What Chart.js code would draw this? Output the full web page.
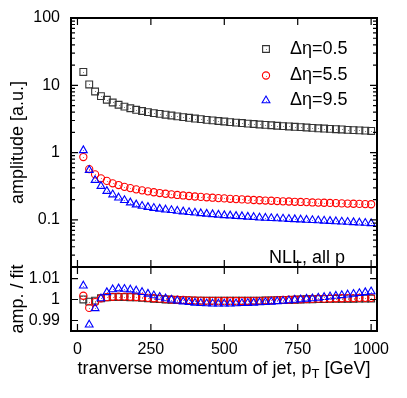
<!DOCTYPE html>
<html>
<head>
<meta charset="utf-8">
<script src="https://cdn.jsdelivr.net/npm/chart.js@4.4.0/dist/chart.umd.min.js"></script>
<style>
  html, body { margin: 0; padding: 0; background: #fff; }
  #wrap { position: relative; width: 407px; height: 398px; }
  #top { position: absolute; left: 0; top: 0; }
  #bot { position: absolute; left: 0; top: 260px; }
</style>
</head>
<body>
<div id="wrap">
  <canvas id="top" width="407" height="270"></canvas>
  <canvas id="bot" width="407" height="138"></canvas>
</div>
<script>
// transverse momentum of the jet (GeV)
const pT = [20, 40, 60, 80, 100, 120, 140, 160, 180, 200,
  220, 240, 260, 280, 300, 320, 340, 360, 380, 400,
  420, 440, 460, 480, 500, 520, 540, 560, 580, 600,
  620, 640, 660, 680, 700, 720, 740, 760, 780, 800,
  820, 840, 860, 880, 900, 920, 940, 960, 980, 1000];

// amplitude [a.u.]
const ampEta05 = [15.8, 10.3, 8.1, 6.9, 6.1, 5.56, 5.14, 4.82, 4.56, 4.33,
  4.15, 4.0, 3.87, 3.76, 3.66, 3.56, 3.46, 3.37, 3.29, 3.21,
  3.14, 3.07, 3.01, 2.95, 2.90, 2.84, 2.79, 2.75, 2.70, 2.66,
  2.62, 2.58, 2.55, 2.51, 2.48, 2.45, 2.42, 2.39, 2.36, 2.33,
  2.30, 2.28, 2.25, 2.23, 2.21, 2.18, 2.16, 2.14, 2.12, 2.10];
const ampEta55 = [0.86, 0.57, 0.475, 0.415, 0.38, 0.35, 0.33, 0.31, 0.297, 0.285,
  0.275, 0.266, 0.258, 0.251, 0.245, 0.240, 0.235, 0.231, 0.227, 0.223,
  0.220, 0.217, 0.214, 0.211, 0.209, 0.206, 0.204, 0.202, 0.200, 0.198,
  0.196, 0.194, 0.193, 0.191, 0.189, 0.188, 0.186, 0.185, 0.184, 0.182,
  0.181, 0.180, 0.179, 0.178, 0.176, 0.175, 0.174, 0.173, 0.172, 0.171];
const ampEta95 = [1.08, 0.55, 0.39, 0.318, 0.268, 0.238, 0.214, 0.196, 0.181, 0.169,
  0.161, 0.155, 0.150, 0.146, 0.142, 0.139, 0.136, 0.133, 0.130, 0.128,
  0.125, 0.123, 0.121, 0.119, 0.117, 0.116, 0.114, 0.113, 0.111, 0.110,
  0.108, 0.107, 0.106, 0.105, 0.104, 0.103, 0.102, 0.101, 0.100, 0.099,
  0.098, 0.097, 0.096, 0.095, 0.094, 0.093, 0.092, 0.091, 0.090, 0.089];

// amp. / fit
const ratioEta05 = [1.0000, 0.9990, 0.9995, 1.0006, 1.0010, 1.0012, 1.0012, 1.0012, 1.0011, 1.0010,
  1.0008, 1.0006, 1.0004, 1.0002, 1.0000, 0.9999, 0.9998, 0.9997, 0.9996, 0.9995,
  0.9995, 0.9994, 0.9994, 0.9994, 0.9994, 0.9994, 0.9994, 0.9994, 0.9994, 0.9995,
  0.9995, 0.9996, 0.9996, 0.9997, 0.9998, 0.9998, 0.9999, 1.0000, 1.0001, 1.0001,
  1.0002, 1.0002, 1.0003, 1.0003, 1.0004, 1.0004, 1.0004, 1.0005, 1.0005, 1.0005];
const ratioEta55 = [1.0018, 0.9960, 0.9988, 1.0006, 1.0011, 1.0013, 1.0014, 1.0014, 1.0013, 1.0012,
  1.0010, 1.0008, 1.0006, 1.0004, 1.0002, 1.0000, 0.9999, 0.9998, 0.9997, 0.9996,
  0.9995, 0.9994, 0.9994, 0.9993, 0.9993, 0.9993, 0.9993, 0.9993, 0.9993, 0.9994,
  0.9994, 0.9995, 0.9996, 0.9997, 0.9998, 0.9999, 1.0000, 1.0001, 1.0002, 1.0003,
  1.0004, 1.0004, 1.0005, 1.0006, 1.0006, 1.0007, 1.0007, 1.0008, 1.0008, 1.0008];
const ratioEta95 = [1.0066, 0.9880, 0.9958, 1.0005, 1.0034, 1.0048, 1.0052, 1.0050, 1.0047, 1.0042,
  1.0035, 1.0027, 1.0019, 1.0012, 1.0005, 0.9999, 0.9994, 0.9990, 0.9987, 0.9984,
  0.9982, 0.9981, 0.9980, 0.9980, 0.9980, 0.9980, 0.9981, 0.9982, 0.9983, 0.9984,
  0.9986, 0.9987, 0.9989, 0.9991, 0.9993, 0.9995, 0.9998, 1.0000, 1.0003, 1.0005,
  1.0008, 1.0011, 1.0014, 1.0017, 1.0020, 1.0023, 1.0026, 1.0030, 1.0034, 1.0038];

const seriesLabels = ["\u0394\u03b7=0.5", "\u0394\u03b7=5.5", "\u0394\u03b7=9.5"];
const xTicks = [0, 250, 500, 750, 1000];
const ampTicks = [0.1, 1, 10, 100];
const ratioTicks = [0.99, 1, 1.01];
const noteText = "NLL, all p";
const xTitle = ["tranverse momentum of jet, p", "T", " [GeV]"];

const FONT = "'Liberation Sans', Arial, Helvetica, sans-serif";
Chart.defaults.font.family = FONT;
Chart.defaults.color = "#000";

const styles = [
  { pointStyle: "rect",     pointRadius: 4.8, color: "#333", dot: "#888", order: 3 },
  { pointStyle: "circle",   pointRadius: 3.6, color: "#ff0000", dot: "#f66", order: 2 },
  { pointStyle: "triangle", pointRadius: 4.5, color: "#0000ff", dot: "#66f", order: 1 },
];

function makeSets(arrs) {
  return arrs.map((arr, i) => ({
    label: seriesLabels[i],
    data: pT.map((x, j) => ({ x, y: arr[j] })),
    pointStyle: styles[i].pointStyle,
    pointRadius: styles[i].pointRadius,
    pointBorderColor: styles[i].color,
    pointBackgroundColor: "rgba(0,0,0,0)",
    pointBorderWidth: 1.1,
    showLine: false,
    order: styles[i].order,
    dotColor: styles[i].dot,
  }));
}

// pin the plot box: fixed axis width, no label overhang padding
function pinY(s) {
  s.width = 71;
  s.paddingTop = 0;
  s.paddingBottom = 0;
}

// gnuplot-ish frame with inward ticks on all four sides, plus marker centre dots
const frameTicks = {
  id: "frameTicks",
  afterDatasetsDraw(chart) {
    const { ctx } = chart;
    ctx.save();
    chart.data.datasets.forEach((ds, i) => {
      const meta = chart.getDatasetMeta(i);
      ctx.fillStyle = ds.dotColor;
      meta.data.forEach((p) => ctx.fillRect(Math.round(p.x), Math.round(p.y), 1, 1));
    });
    ctx.restore();
  },
  afterDraw(chart, args, opts) {
    const { ctx, chartArea: a, scales: { x, y } } = chart;
    ctx.save();
    ctx.strokeStyle = "#000";
    ctx.lineWidth = 1.2;
    ctx.beginPath();
    for (const v of xTicks) {
      const px = x.getPixelForValue(v);
      ctx.moveTo(px, a.top); ctx.lineTo(px, a.top + 7);
      ctx.moveTo(px, a.bottom); ctx.lineTo(px, a.bottom - 7);
    }
    for (const v of opts.major) {
      const py = y.getPixelForValue(v);
      ctx.moveTo(a.left, py); ctx.lineTo(a.left + 7, py);
      ctx.moveTo(a.right, py); ctx.lineTo(a.right - 7, py);
    }
    for (const v of opts.minor || []) {
      const py = y.getPixelForValue(v);
      ctx.moveTo(a.left, py); ctx.lineTo(a.left + 4, py);
      ctx.moveTo(a.right, py); ctx.lineTo(a.right - 4, py);
    }
    ctx.stroke();
    ctx.lineWidth = 2;
    ctx.strokeRect(a.left, a.top, a.right - a.left, a.bottom - a.top);
    ctx.restore();
  },
};

// legend + note text inside the upper panel
const topDecor = {
  id: "topDecor",
  afterDraw(chart) {
    const { ctx } = chart;
    const H = Chart.helpers;
    ctx.save();
    const rows = [49, 75.5, 100.5];
    chart.data.datasets.forEach((ds, i) => {
      ctx.strokeStyle = ds.pointBorderColor;
      ctx.fillStyle = "rgba(0,0,0,0)";
      ctx.lineWidth = 1.1;
      H.drawPoint(ctx, { pointStyle: ds.pointStyle, radius: ds.pointRadius, rotation: 0, borderWidth: 1.1 }, 266, rows[i]);
      ctx.fillStyle = ds.dotColor;
      ctx.fillRect(266, Math.round(rows[i]), 1, 1);
      ctx.fillStyle = "#000";
      ctx.font = "18px " + FONT;
      ctx.textBaseline = "middle";
      ctx.textAlign = "left";
      ctx.fillText(ds.label, 290, rows[i]);
    });
    ctx.font = "18px " + FONT;
    ctx.textBaseline = "alphabetic";
    ctx.textAlign = "left";
    ctx.fillStyle = "#000";
    ctx.fillText(noteText, 269, 262.5);
    ctx.restore();
  },
};

// x axis title with subscript T
const botDecor = {
  id: "botDecor",
  afterDraw(chart) {
    const { ctx, chartArea: a } = chart;
    ctx.save();
    ctx.fillStyle = "#000";
    ctx.textBaseline = "alphabetic";
    const big = "18px " + FONT, small = "13px " + FONT;
    ctx.font = big; const w1 = ctx.measureText(xTitle[0]).width;
    ctx.font = small; const w2 = ctx.measureText(xTitle[1]).width;
    ctx.font = big; const w3 = ctx.measureText(xTitle[2]).width;
    const x0 = (a.left + a.right) / 2 - (w1 + w2 + w3) / 2;
    const base = 114;
    ctx.font = big; ctx.fillText(xTitle[0], x0, base);
    ctx.font = small; ctx.fillText(xTitle[1], x0 + w1, base + 4);
    ctx.font = big; ctx.fillText(xTitle[2], x0 + w1 + w2, base);
    ctx.restore();
  },
};

const minorAmp = [];
for (let e = -2; e <= 1; e++) {
  for (let m = 2; m <= 9; m++) {
    const v = m * Math.pow(10, e);
    if (v >= 0.02 && v <= 100) minorAmp.push(v);
  }
}

const yTitle = (text) => ({
  display: true, text, color: "#000",
  font: { size: 18, family: FONT, lineHeight: 1.2 },
  padding: { top: 7, bottom: 0 },
});

new Chart(document.getElementById("top"), {
  type: "scatter",
  data: { datasets: makeSets([ampEta05, ampEta55, ampEta95]) },
  options: {
    responsive: false,
    animation: false,
    layout: { autoPadding: false, padding: { left: 0, right: 30, top: 18, bottom: 3 } },
    plugins: {
      legend: { display: false },
      tooltip: { enabled: false },
      frameTicks: { major: ampTicks, minor: minorAmp },
    },
    scales: {
      x: { type: "linear", display: false, min: -22, max: 1020 },
      y: {
        type: "logarithmic", min: 0.02, max: 100,
        afterBuildTicks: (s) => { s.ticks = ampTicks.map((v) => ({ value: v, major: true })); },
        afterFit: pinY,
        grid: { display: false, drawTicks: false },
        border: { display: false },
        ticks: { autoSkip: false, padding: 11, font: { size: 16 }, callback: (v) => String(v) },
        title: yTitle("amplitude [a.u.]"),
      },
    },
  },
  plugins: [frameTicks, topDecor],
});

new Chart(document.getElementById("bot"), {
  type: "scatter",
  data: { datasets: makeSets([ratioEta05, ratioEta55, ratioEta95]) },
  options: {
    responsive: false,
    animation: false,
    layout: { autoPadding: false, padding: { left: 0, right: 30, top: 7, bottom: 0 } },
    plugins: {
      legend: { display: false },
      tooltip: { enabled: false },
      frameTicks: { major: ratioTicks },
    },
    scales: {
      x: {
        type: "linear", min: -22, max: 1020,
        afterBuildTicks: (s) => { s.ticks = xTicks.map((v) => ({ value: v })); },
        afterFit: (s) => { s.height = 67; s.paddingLeft = 0; s.paddingRight = 0; },
        grid: { display: false, drawTicks: false },
        border: { display: false },
        ticks: { autoSkip: false, maxRotation: 0, padding: 9, font: { size: 16 }, callback: (v) => String(v) },
      },
      y: {
        type: "linear", min: 0.985, max: 1.0155,
        afterBuildTicks: (s) => { s.ticks = ratioTicks.map((v) => ({ value: v })); },
        afterFit: pinY,
        grid: { display: false, drawTicks: false },
        border: { display: false },
        ticks: { autoSkip: false, padding: 11, font: { size: 16 }, callback: (v) => String(v) },
        title: yTitle("amp. / fit"),
      },
    },
  },
  plugins: [frameTicks, botDecor],
});
</script>
</body>
</html>
